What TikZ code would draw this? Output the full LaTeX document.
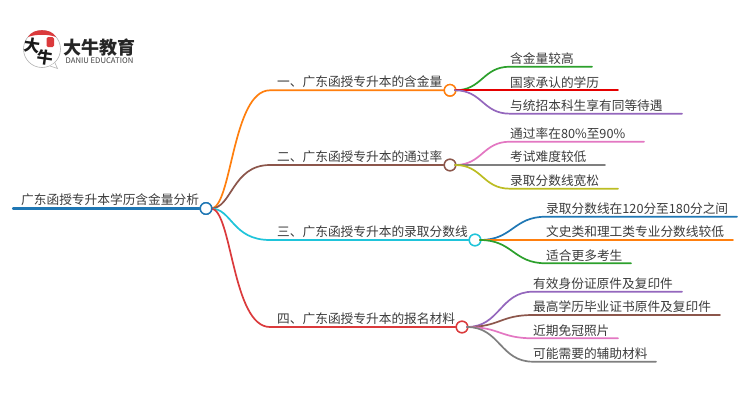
\documentclass[tikz,border=0pt]{standalone}
\usepackage{fontspec}
\setmainfont{Noto Sans CJK SC}
\usetikzlibrary{calc}
\definecolor{tOrange}{HTML}{FF7F0E}
\definecolor{tBrown}{HTML}{8C564B}
\definecolor{tCyan}{HTML}{1FC4DA}
\definecolor{tRed}{HTML}{DB3A3C}
\definecolor{tBlue}{HTML}{1F77B4}
\definecolor{tGreen}{HTML}{2CA02C}
\definecolor{tPurple}{HTML}{9467BD}
\definecolor{tPink}{HTML}{E377C2}
\definecolor{tGray}{HTML}{7F7F7F}
\definecolor{tOlive}{HTML}{BCBD22}
\definecolor{txt}{HTML}{3C3C3C}
\tikzset{
  lbl/.style={anchor=base west,inner sep=0pt,text=txt,font=\fontsize{12.7}{14}\selectfont},
  hub/.style={circle,draw=#1,fill=white,line width=1.4pt,minimum size=11.5pt,inner sep=0pt},
  conn/.style={draw=#1,line width=1.7pt,line cap=round},
  logomark/.style={inner sep=0pt,text=black!90,font=\fontsize{16}{16}\selectfont\bfseries,rotate=-8},
}
\newcommand{\kid}[7]{% name, colour, hub, start x, y, end x, text
  \coordinate (#1s) at (#4,#5);
  \coordinate (#1e) at (#6,#5);
  \node[lbl] (#1t) at (#4,#5-3.3) {#7};
  \draw[conn=#2] let \p1=(#3.center),\p2=(#1s) in
    (\x1+5pt,\y1) .. controls ({0.5*(\x1+5pt+\x2)},\y1) and ({0.5*(\x1+5pt+\x2)},\y2) .. (#1s) -- (#1e);
}
\begin{document}
\begin{tikzpicture}[x=1pt,y=-1pt]
\useasboundingbox (0,0) rectangle (750,410);
\fill[white] (0,0) rectangle (750,410);

% logo
\coordinate (lc) at (42,49);
\draw[draw=black!30,line width=0.6pt,fill=white] (lc) circle (18.5);
\draw[draw=black!30,line width=0.6pt,fill=white] (50,66) -- (57.5,68.5) -- (55,63);
\fill[tRed] (28,37) .. controls (31,32) and (36,30.2) .. (42,30.2) .. controls (48,30.2) and (53,32) .. (56,37) .. controls (48,34) and (36,34) .. (28,37) -- cycle;
\fill[tRed,rounded corners=1.5pt] (46.5,37) rectangle (54,47);
\node[logomark] (logoa) at (32.5,45.5) {大};
\node[logomark] (logob) at (45,58) {牛};
\node[inner sep=0pt,text=black!85,font=\fontsize{18}{18}\selectfont\bfseries] (logoc) at (99.5,47.5) {大牛教育};
\node[inner sep=0pt,text=black!75,font=\fontsize{7.7}{8}\selectfont] (logod) at (99.5,60.5) {DANIU EDUCATION};

% root
\coordinate (r0) at (13,208.5);
\node[hub=tBlue] (root) at (206,208.5) {};
\node[lbl] (roott) at (21,204.5) {广东函授专升本学历含金量分析};

% hubs
\node[hub=tOrange] (h1) at (450,90.3) {};
\node[hub=tBrown] (h2) at (450,165) {};
\node[hub=tCyan] (h3) at (475,240) {};
\node[hub=tRed] (h4) at (462,327) {};

% main connectors
\coordinate (ra) at (211,208.5);
\coordinate (b1) at (270,90.3);
\coordinate (b2) at (270,165);
\coordinate (b3) at (270,240);
\coordinate (b4) at (270,327);
\draw[conn=tOrange] (ra) .. controls (232,208.5) and (232,90.3) .. (b1) -- (h1);
\draw[conn=tBrown] (ra) .. controls (232,208.5) and (232,165) .. (b2) -- (h2);
\draw[conn=tCyan] (ra) .. controls (232,208.5) and (232,240) .. (b3) -- (h3);
\draw[conn=tRed] (ra) .. controls (232,208.5) and (232,327) .. (b4) -- (h4);
\draw[conn=tBlue,line width=2.2pt] (r0) -- (root);

\node[hub=tOrange] at (h1) {};
\node[hub=tBrown] at (h2) {};
\node[hub=tCyan] at (h3) {};
\node[hub=tRed] at (h4) {};
\node[hub=tBlue] at (root) {};

\node[lbl] (m1) at (277,86.5) {一、广东函授专升本的含金量};
\node[lbl] (m2) at (277,161.5) {二、广东函授专升本的通过率};
\node[lbl] (m3) at (277,236.5) {三、广东函授专升本的录取分数线};
\node[lbl] (m4) at (277,323.5) {四、广东函授专升本的报名材料};

% leaves
\kid{a}{tGreen}{h1}{510}{66.7}{592}{含金量较高}
\kid{b}{red!90!black}{h1}{510}{90.3}{618}{国家承认的学历}
\kid{c}{tPurple}{h1}{510}{113.7}{682}{与统招本科生享有同等待遇}
\kid{d}{tPink}{h2}{510}{141.7}{644}{通过率在80\%至90\%}
\kid{e}{tGray}{h2}{510}{165}{605}{考试难度较低}
\kid{f}{tOlive}{h2}{510}{188.7}{618}{录取分数线宽松}
\kid{g}{tBlue}{h3}{546}{216.7}{737}{录取分数线在120分至180分之间}
\kid{k}{tOrange}{h3}{546}{240}{733}{文史类和理工类专业分数线较低}
\kid{l}{tGreen}{h3}{546}{263.3}{631}{适合更多考生}
\kid{n}{tPurple}{h4}{533}{291.7}{682}{有效身份证原件及复印件}
\kid{o}{tBrown}{h4}{533}{315}{720}{最高学历毕业证书原件及复印件}
\kid{q}{tPink}{h4}{533}{338.3}{618}{近期免冠照片}
\kid{s}{tGray}{h4}{533}{361.7}{656}{可能需要的辅助材料}
\end{tikzpicture}
\end{document}
